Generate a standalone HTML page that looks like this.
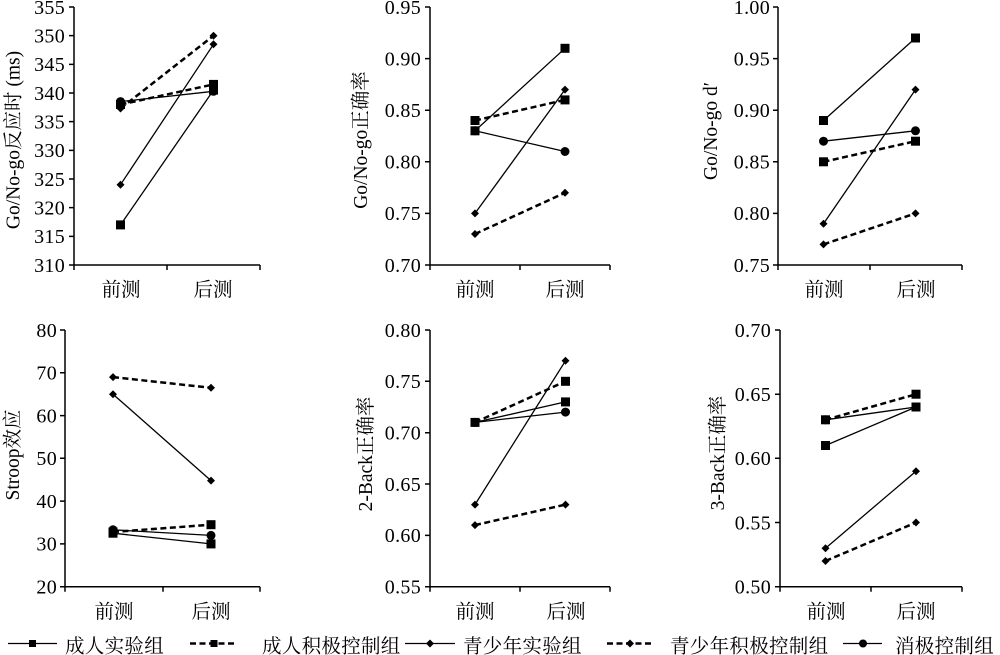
<!DOCTYPE html>
<html><head><meta charset="utf-8">
<style>
html,body{margin:0;padding:0;background:#fff;}
svg{display:block;}
text{font-family:"Liberation Serif","Noto Serif CJK SC","Noto Sans CJK SC",serif;fill:#000;}
.t{font-size:20px;letter-spacing:0.3px;text-anchor:end;}
.c{font-size:19.5px;text-anchor:middle;}
.yl{font-size:19.5px;text-anchor:middle;}
.lg{font-size:19.5px;letter-spacing:0.3px;}
.ax{stroke:#000;stroke-width:1.5;fill:none;}
.s{stroke:#000;stroke-width:1.3;fill:none;}
.d{stroke:#000;stroke-width:2.5;fill:none;stroke-dasharray:6 3.5;}
</style></head><body>
<svg width="1000" height="655" viewBox="0 0 1000 655" xmlns="http://www.w3.org/2000/svg">
<defs>
<rect id="sq" x="-4.5" y="-4.5" width="9" height="9" fill="#000"/>
<polygon id="di" points="0,-4 4,0 0,4 -4,0" fill="#000"/>
<circle id="ci" r="4.5" fill="#000"/>
</defs>

<!-- ============ Panel 1 ============ -->
<g>
<path class="ax" d="M74,7V270M74,265H260M167,265V270M260,265V270M69,7H74M69,35.67H74M69,64.33H74M69,93H74M69,121.67H74M69,150.33H74M69,179H74M69,207.67H74M69,236.33H74M69,265H74"/>
<text class="t" x="65" y="13.8">355</text>
<text class="t" x="65" y="42.5">350</text>
<text class="t" x="65" y="71.1">345</text>
<text class="t" x="65" y="99.8">340</text>
<text class="t" x="65" y="128.5">335</text>
<text class="t" x="65" y="157.1">330</text>
<text class="t" x="65" y="185.8">325</text>
<text class="t" x="65" y="214.5">320</text>
<text class="t" x="65" y="243.1">315</text>
<text class="t" x="65" y="271.8">310</text>
<text class="c" x="121" y="296">前测</text>
<text class="c" x="213" y="296">后测</text>
<text class="yl" transform="translate(12.5,140) rotate(-90)" dy="0.35em">Go/No-go反应时 (ms)</text>
<line class="s" x1="120.5" y1="101.6" x2="213.5" y2="91.3"/>
<line class="s" x1="120.5" y1="224.9" x2="213.5" y2="90.1"/>
<line class="d" x1="120.5" y1="104.5" x2="213.5" y2="84.4"/>
<line class="s" x1="120.5" y1="184.7" x2="213.5" y2="44.3"/>
<line class="d" x1="120.5" y1="108.5" x2="213.5" y2="35.7"/>
<use href="#ci" x="120.5" y="101.6"/><use href="#ci" x="213.5" y="91.3"/>
<use href="#sq" x="120.5" y="224.9"/><use href="#sq" x="213.5" y="90.1"/>
<use href="#sq" x="120.5" y="104.5"/><use href="#sq" x="213.5" y="84.4"/>
<use href="#di" x="120.5" y="184.7"/><use href="#di" x="213.5" y="44.3"/>
<use href="#di" x="120.5" y="108.5"/><use href="#di" x="213.5" y="35.7"/>
</g>

<!-- ============ Panel 2 ============ -->
<g>
<path class="ax" d="M430,7V270M430,265H610M520,265V270M610,265V270M425,7H430M425,58.6H430M425,110.2H430M425,161.8H430M425,213.4H430M425,265H430"/>
<text class="t" x="421" y="13.8">0.95</text>
<text class="t" x="421" y="65.4">0.90</text>
<text class="t" x="421" y="117">0.85</text>
<text class="t" x="421" y="168.6">0.80</text>
<text class="t" x="421" y="220.2">0.75</text>
<text class="t" x="421" y="271.8">0.70</text>
<text class="c" x="475" y="296">前测</text>
<text class="c" x="565" y="296">后测</text>
<text class="yl" transform="translate(360,140) rotate(-90)" dy="0.35em">Go/No-go正确率</text>
<line class="s" x1="475" y1="130.8" x2="565" y2="151.5"/>
<line class="s" x1="475" y1="130.8" x2="565" y2="48.3"/>
<line class="d" x1="475" y1="120.5" x2="565" y2="99.9"/>
<line class="s" x1="475" y1="213.4" x2="565" y2="89.6"/>
<line class="d" x1="475" y1="234.0" x2="565" y2="192.8"/>
<use href="#ci" x="475" y="130.8"/><use href="#ci" x="565" y="151.5"/>
<use href="#sq" x="475" y="130.8"/><use href="#sq" x="565" y="48.3"/>
<use href="#sq" x="475" y="120.5"/><use href="#sq" x="565" y="99.9"/>
<use href="#di" x="475" y="213.4"/><use href="#di" x="565" y="89.6"/>
<use href="#di" x="475" y="234.0"/><use href="#di" x="565" y="192.8"/>
</g>

<!-- ============ Panel 3 ============ -->
<g>
<path class="ax" d="M778,7V270M778,265H962M870,265V270M962,265V270M773,7H778M773,58.6H778M773,110.2H778M773,161.8H778M773,213.4H778M773,265H778"/>
<text class="t" x="770" y="13.8">1.00</text>
<text class="t" x="770" y="65.4">0.95</text>
<text class="t" x="770" y="117">0.90</text>
<text class="t" x="770" y="168.6">0.85</text>
<text class="t" x="770" y="220.2">0.80</text>
<text class="t" x="770" y="271.8">0.75</text>
<text class="c" x="824" y="296">前测</text>
<text class="c" x="916" y="296">后测</text>
<text class="yl" transform="translate(710,131) rotate(-90)" dy="0.35em">Go/No-go d′</text>
<line class="s" x1="823.5" y1="141.2" x2="915.5" y2="130.8"/>
<line class="s" x1="823.5" y1="120.5" x2="915.5" y2="38.0"/>
<line class="d" x1="823.5" y1="161.8" x2="915.5" y2="141.2"/>
<line class="s" x1="823.5" y1="223.7" x2="915.5" y2="89.6"/>
<line class="d" x1="823.5" y1="244.4" x2="915.5" y2="213.4"/>
<use href="#ci" x="823.5" y="141.2"/><use href="#ci" x="915.5" y="130.8"/>
<use href="#sq" x="823.5" y="120.5"/><use href="#sq" x="915.5" y="38.0"/>
<use href="#sq" x="823.5" y="161.8"/><use href="#sq" x="915.5" y="141.2"/>
<use href="#di" x="823.5" y="223.7"/><use href="#di" x="915.5" y="89.6"/>
<use href="#di" x="823.5" y="244.4"/><use href="#di" x="915.5" y="213.4"/>
</g>

<!-- ============ Panel 4 ============ -->
<g>
<path class="ax" d="M65,330V591.7M65,586.7H260M163,586.7V591.7M260,586.7V591.7M60,330H65M60,372.8H65M60,415.6H65M60,458.3H65M60,501.1H65M60,543.9H65M60,586.7H65"/>
<text class="t" x="57" y="336.8">80</text>
<text class="t" x="57" y="379.6">70</text>
<text class="t" x="57" y="422.4">60</text>
<text class="t" x="57" y="465.1">50</text>
<text class="t" x="57" y="507.9">40</text>
<text class="t" x="57" y="550.7">30</text>
<text class="t" x="57" y="593.5">20</text>
<text class="c" x="114" y="618">前测</text>
<text class="c" x="211" y="618">后测</text>
<text class="yl" transform="translate(12,455) rotate(-90)" dy="0.35em">Stroop效应</text>
<line class="s" x1="113" y1="529.8" x2="211" y2="535.4"/>
<line class="s" x1="113" y1="533.2" x2="211" y2="543.9"/>
<line class="d" x1="113" y1="532.0" x2="211" y2="524.7"/>
<line class="s" x1="113" y1="394.2" x2="211" y2="480.6"/>
<line class="d" x1="113" y1="377.1" x2="211" y2="387.8"/>
<use href="#ci" x="113" y="529.8"/><use href="#ci" x="211" y="535.4"/>
<use href="#sq" x="113" y="533.2"/><use href="#sq" x="211" y="543.9"/>
<use href="#sq" x="113" y="532.0"/><use href="#sq" x="211" y="524.7"/>
<use href="#di" x="113" y="394.2"/><use href="#di" x="211" y="480.6"/>
<use href="#di" x="113" y="377.1"/><use href="#di" x="211" y="387.8"/>
</g>

<!-- ============ Panel 5 ============ -->
<g>
<path class="ax" d="M430,330V591.7M430,586.7H610M520,586.7V591.7M610,586.7V591.7M425,330H430M425,381.3H430M425,432.7H430M425,484H430M425,535.4H430M425,586.7H430"/>
<text class="t" x="421" y="336.8">0.80</text>
<text class="t" x="421" y="388.1">0.75</text>
<text class="t" x="421" y="439.5">0.70</text>
<text class="t" x="421" y="490.8">0.65</text>
<text class="t" x="421" y="542.2">0.60</text>
<text class="t" x="421" y="593.5">0.55</text>
<text class="c" x="475" y="618">前测</text>
<text class="c" x="566" y="618">后测</text>
<text class="yl" transform="translate(365,454) rotate(-90)" dy="0.35em">2-Back正确率</text>
<line class="s" x1="475" y1="422.4" x2="565.5" y2="412.1"/>
<line class="s" x1="475" y1="422.4" x2="565.5" y2="401.9"/>
<line class="d" x1="475" y1="422.4" x2="565.5" y2="381.3"/>
<line class="s" x1="475" y1="504.6" x2="565.5" y2="360.8"/>
<line class="d" x1="475" y1="525.1" x2="565.5" y2="504.6"/>
<use href="#ci" x="475" y="422.4"/><use href="#ci" x="565.5" y="412.1"/>
<use href="#sq" x="475" y="422.4"/><use href="#sq" x="565.5" y="401.9"/>
<use href="#sq" x="565.5" y="381.3"/>
<use href="#di" x="475" y="504.6"/><use href="#di" x="565.5" y="360.8"/>
<use href="#di" x="475" y="525.1"/><use href="#di" x="565.5" y="504.6"/>
</g>

<!-- ============ Panel 6 ============ -->
<g>
<path class="ax" d="M780,330V591.7M780,586.7H962M871,586.7V591.7M962,586.7V591.7M775,330H780M775,394.2H780M775,458.3H780M775,522.5H780M775,586.7H780"/>
<text class="t" x="771" y="336.8">0.70</text>
<text class="t" x="771" y="401">0.65</text>
<text class="t" x="771" y="465.1">0.60</text>
<text class="t" x="771" y="529.3">0.55</text>
<text class="t" x="771" y="593.5">0.50</text>
<text class="c" x="826" y="618">前测</text>
<text class="c" x="916" y="618">后测</text>
<text class="yl" transform="translate(717,453) rotate(-90)" dy="0.35em">3-Back正确率</text>
<line class="s" x1="825.5" y1="419.8" x2="916" y2="407.0"/>
<line class="s" x1="825.5" y1="445.5" x2="916" y2="407.0"/>
<line class="d" x1="825.5" y1="419.8" x2="916" y2="394.2"/>
<line class="s" x1="825.5" y1="548.2" x2="916" y2="471.2"/>
<line class="d" x1="825.5" y1="561.0" x2="916" y2="522.5"/>
<use href="#ci" x="825.5" y="419.8"/><use href="#ci" x="916" y="407.0"/>
<use href="#sq" x="825.5" y="445.5"/><use href="#sq" x="916" y="407.0"/>
<use href="#sq" x="825.5" y="419.8"/><use href="#sq" x="916" y="394.2"/>
<use href="#di" x="825.5" y="548.2"/><use href="#di" x="916" y="471.2"/>
<use href="#di" x="825.5" y="561.0"/><use href="#di" x="916" y="522.5"/>
</g>

<!-- ============ Legend ============ -->
<g>
<line class="s" x1="8" y1="643.5" x2="57" y2="643.5"/>
<rect x="29" y="640" width="7" height="7" fill="#000"/>
<text class="lg" x="65" y="652.5">成人实验组</text>

<line x1="190" y1="643.5" x2="237" y2="643.5" stroke="#000" stroke-width="2.5" stroke-dasharray="6 3.5"/>
<rect x="210.5" y="640" width="7" height="7" fill="#000"/>
<text class="lg" x="262" y="652.5">成人积极控制组</text>

<line class="s" x1="405" y1="643.5" x2="455" y2="643.5"/>
<polygon points="430,639.5 434,643.5 430,647.5 426,643.5" fill="#000"/>
<text class="lg" x="463" y="652.5">青少年实验组</text>

<line x1="607" y1="643.5" x2="653" y2="643.5" stroke="#000" stroke-width="2.5" stroke-dasharray="6 3.5"/>
<polygon points="630,639.5 634,643.5 630,647.5 626,643.5" fill="#000"/>
<text class="lg" x="670" y="652.5">青少年积极控制组</text>

<line class="s" x1="843" y1="643.5" x2="882" y2="643.5"/>
<circle cx="863" cy="643.5" r="4" fill="#000"/>
<text class="lg" x="895" y="652.5">消极控制组</text>
</g>
</svg>
</body></html>
